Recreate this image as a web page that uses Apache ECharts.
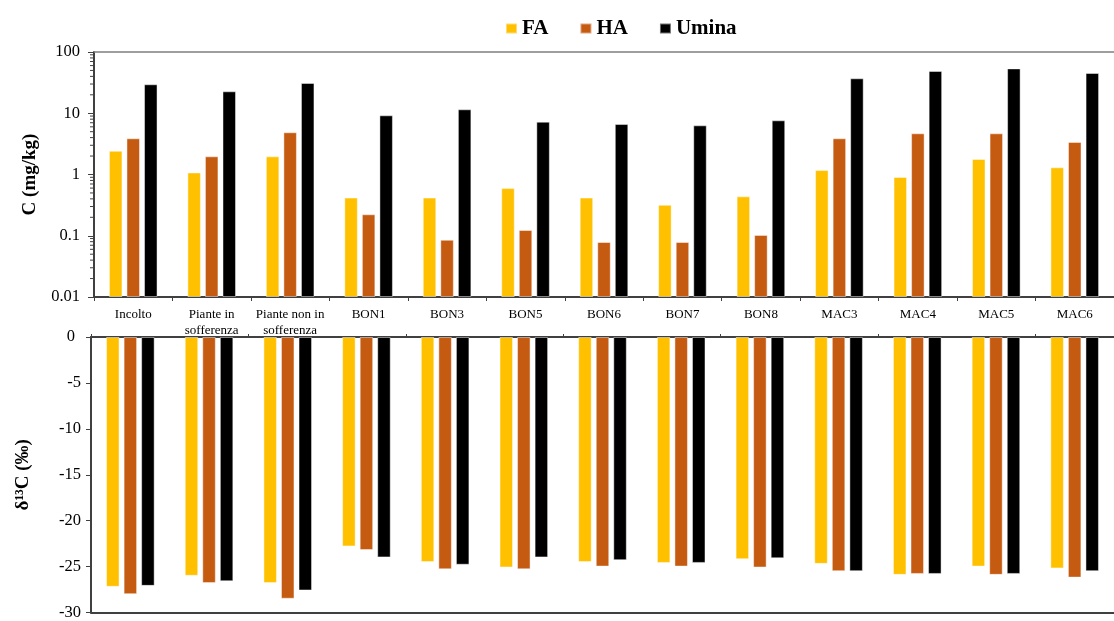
<!DOCTYPE html>
<html><head><meta charset="utf-8">
<script src="https://cdn.jsdelivr.net/npm/echarts@6/dist/echarts.min.js"></script>
<style>html,body{margin:0;padding:0;background:#fff}#c{width:1114px;height:621px}</style>
</head><body><div id="c"></div>
<script>
const categories = ['Incolto','Piante in\nsofferenza','Piante non in\nsofferenza','BON1','BON3','BON5','BON6','BON7','BON8','MAC3','MAC4','MAC5','MAC6'];
const seriesNames = ['FA','HA','Umina'];
// C (mg/kg), log scale
const cFA    = [2.44, 1.08, 1.98, 0.42, 0.42, 0.60, 0.42, 0.32, 0.44, 1.18, 0.91, 1.79, 1.31];
const cHA    = [3.9, 1.98, 4.89, 0.224, 0.086, 0.124, 0.079, 0.079, 0.103, 3.9, 4.7, 4.7, 3.4];
const cUmina = [29.7, 22.8, 31.2, 9.25, 11.6, 7.28, 6.67, 6.35, 7.66, 37.2, 49, 54, 45.4];
// delta 13C (per mil)
const dFA    = [-27.2, -26.0, -26.8, -22.8, -24.5, -25.1, -24.5, -24.6, -24.2, -24.7, -25.9, -25.0, -25.2];
const dHA    = [-28.0, -26.8, -28.5, -23.2, -25.3, -25.3, -25.0, -25.0, -25.1, -25.5, -25.8, -25.9, -26.2];
const dUmina = [-27.1, -26.6, -27.6, -24.0, -24.8, -24.0, -24.3, -24.6, -24.1, -25.5, -25.8, -25.8, -25.5];
const logTickLabels = ['0.01', '0.1', '1', '10', '100'];
const logMinorTicks = [0.02,0.03,0.04,0.05,0.06,0.07,0.08,0.09, 0.2,0.3,0.4,0.5,0.6,0.7,0.8,0.9, 2,3,4,5,6,7,8,9, 20,30,40,50,60,70,80,90];
const colors = ['#FFC000', '#C55A11', '#000000'];

// bars of a log chart grow from the axis floor (0.01): map values to decades above the floor
const LOG_FLOOR = Number(logTickLabels[0]);
const toDecades = v => Math.log10(v) - Math.log10(LOG_FLOOR);

const FONT = '"Liberation Serif", "Times New Roman", serif';
const AXC = '#404040';
const chart = echarts.init(document.getElementById('c'), null, {renderer: 'canvas'});

function bar(name, data, color, xi, yi) {
  return {
    name, type: 'bar', data, xAxisIndex: xi, yAxisIndex: yi,
    barWidth: 13.5, barGap: '30%',
    itemStyle: {color, borderColor: 'rgba(255,255,255,0.45)', borderWidth: 1},
    emphasis: {disabled: true}
  };
}

const option = {
  animation: false,
  backgroundColor: '#fff',
  legend: {
    data: seriesNames, left: 500, top: 13, icon: 'rect', itemWidth: 11, itemHeight: 10, itemGap: 31,
    textStyle: {fontFamily: FONT, fontWeight: 'bold', fontSize: 21, color: '#000'}
  },
  grid: [
    {left: 94, top: 52, width: 1028, height: 245},
    {left: 91, top: 337, width: 1036, height: 278}
  ],
  xAxis: [
    {gridIndex: 0, type: 'category', data: categories, position: 'bottom',
     axisLine: {onZero: false, lineStyle: {color: AXC, width: 2}},
     axisTick: {show: true, length: 4, lineStyle: {color: AXC, width: 1}},
     axisLabel: {interval: 0, fontFamily: FONT, fontSize: 13, color: '#000', margin: 10, lineHeight: 16}},
    {gridIndex: 0, type: 'category', data: categories, position: 'top',
     axisLine: {onZero: false, lineStyle: {color: '#7f7f7f', width: 1.5}},
     axisTick: {show: false}, axisLabel: {show: false}},
    {gridIndex: 1, type: 'category', data: categories, position: 'top',
     axisLine: {onZero: false, lineStyle: {color: AXC, width: 2}},
     axisTick: {show: true, length: 3, lineStyle: {color: AXC, width: 1}},
     axisLabel: {show: false}},
    {gridIndex: 1, type: 'category', data: categories, position: 'bottom',
     axisLine: {onZero: false, lineStyle: {color: AXC, width: 2}},
     axisTick: {show: false}, axisLabel: {show: false}}
  ],
  yAxis: [
    {gridIndex: 0, type: 'value', min: 0, max: logTickLabels.length - 1, interval: 1,
     axisLine: {show: true, onZero: false, lineStyle: {color: AXC, width: 2}},
     axisTick: {show: true, length: 6, lineStyle: {color: AXC, width: 1}},
     splitLine: {show: false},
     axisLabel: {fontFamily: FONT, fontSize: 16.5, color: '#000', margin: 14,
       formatter: (v) => logTickLabels[Math.round(v)]},
     name: 'C (mg/kg)', nameLocation: 'middle', nameGap: 54,
     nameTextStyle: {fontFamily: FONT, fontWeight: 'bold', fontSize: 19, color: '#000'}},
    {gridIndex: 1, type: 'value', min: -30, max: 0, interval: 5,
     axisLine: {show: true, onZero: false, lineStyle: {color: AXC, width: 2}},
     axisTick: {show: true, length: 5, lineStyle: {color: AXC, width: 1}},
     splitLine: {show: false},
     axisLabel: {fontFamily: FONT, fontSize: 16.5, color: '#000', margin: 10,
       formatter: (v) => v === 0 ? '{z|0}' : String(v),
       rich: {z: {fontFamily: FONT, fontSize: 16.5, color: '#000', padding: [0, 6, 0, 0]}}},
     name: 'δ¹³C (‰)', nameLocation: 'middle', nameGap: 58,
     nameTextStyle: {fontFamily: FONT, fontWeight: 'bold', fontSize: 19, color: '#000'}}
  ],
  series: [
    bar('FA', cFA.map(toDecades), colors[0], 0, 0),
    bar('HA', cHA.map(toDecades), colors[1], 0, 0),
    bar('Umina', cUmina.map(toDecades), colors[2], 0, 0),
    bar('FA', dFA, colors[0], 2, 1),
    bar('HA', dHA, colors[1], 2, 1),
    bar('Umina', dUmina, colors[2], 2, 1),
    {type: 'custom', name: 'minor', xAxisIndex: 0, yAxisIndex: 0, clip: false, silent: true,
     data: logMinorTicks.map(v => [0, toDecades(v)]),
     renderItem: (params, api) => {
       const y = api.coord([0, api.value(1)])[1];
       const x0 = params.coordSys.x;
       return {type: 'line', shape: {x1: x0 - 4, y1: y, x2: x0, y2: y}, style: {stroke: AXC, lineWidth: 1}};
     }}
  ]
};
chart.setOption(option);
</script>
</body></html>
